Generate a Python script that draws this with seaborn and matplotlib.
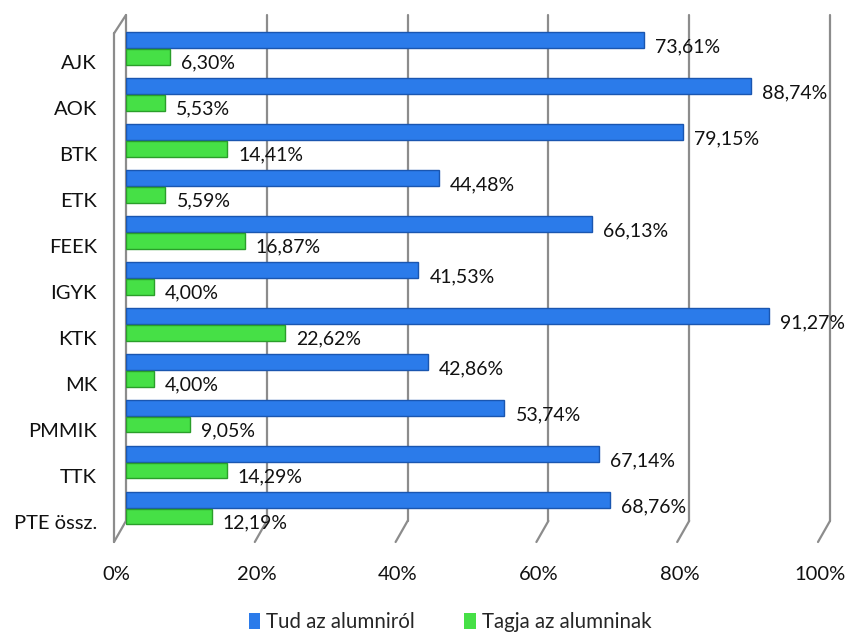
import numpy as np
import pandas as pd
import matplotlib
matplotlib.use("Agg")
import matplotlib.pyplot as plt
import matplotlib.transforms as mtransforms
from matplotlib.patches import Patch
import seaborn as sns

categories = ["AJK", "AOK", "BTK", "ETK", "FEEK", "IGYK", "KTK", "MK", "PMMIK", "TTK", "PTE össz."]
tud_values = [73.61, 88.74, 79.15, 44.48, 66.13, 41.53, 91.27, 42.86, 53.74, 67.14, 68.76]
tagja_values = [6.30, 5.53, 14.41, 5.59, 16.87, 4.00, 22.62, 4.00, 9.05, 14.29, 12.19]
series_names = ["Tud az alumniról", "Tagja az alumninak"]
x_ticks = [0, 20, 40, 60, 80, 100]
x_tick_labels = ["0%", "20%", "40%", "60%", "80%", "100%"]

colors = ["#2B7BEA", "#46E046"]
edge_colors = ["#1A56B0", "#2A9E2A"]

df = pd.DataFrame({
    "cat": categories * 2,
    "value": tud_values + tagja_values,
    "series": [series_names[0]] * len(categories) + [series_names[1]] * len(categories),
})

sns.set_theme(style="white")
plt.rcParams["font.family"] = ["Lato", "DejaVu Sans"]
FS = 14

fig = plt.figure(figsize=(8.53, 6.37), dpi=100)
ax = fig.add_axes([126 / 853, 1 - 542 / 637, 704 / 853, 527 / 637])

sns.barplot(data=df, y="cat", x="value", hue="series", order=categories,
            hue_order=series_names, palette=colors, saturation=1, orient="h",
            width=0.72, gap=0.06, ax=ax, legend=False, zorder=3)

for container, ec in zip(ax.containers, edge_colors):
    for bar in container:
        bar.set_edgecolor(ec)
        bar.set_linewidth(1.0)

ax.set_xlim(0, 100)
ax.set_ylim(10.73, -0.728)
ax.set_xlabel("")
ax.set_ylabel("")
for s in ax.spines.values():
    s.set_visible(False)

# gridlines (pseudo-3D wall lines)
trans = ax.get_xaxis_transform()
slant = 12 / 704 * 100
for xv in x_ticks:
    ax.plot([xv, xv], [1.0, 0.04], color="#8C8C8C", lw=1.6, transform=trans, zorder=1, clip_on=False)
    ax.plot([xv, xv - slant], [0.04, 0.0], color="#8C8C8C", lw=1.6, transform=trans, zorder=1, clip_on=False)
ax.plot([0, -slant], [1.0, 0.965], color="#8C8C8C", lw=1.6, transform=trans, zorder=1, clip_on=False)
ax.plot([-slant, -slant], [0.965, 0.0], color="#8C8C8C", lw=1.6, transform=trans, zorder=1, clip_on=False)

ax.set_xticks(x_ticks)
ax.set_xticklabels(x_tick_labels, fontsize=FS + 0.5, color="#111111")
ax.tick_params(axis="x", length=0, pad=17)
ax.tick_params(axis="y", length=0, pad=21, labelsize=FS + 0.5, labelcolor="#111111")
for lab in ax.get_xticklabels():
    lab.set_transform(lab.get_transform() + mtransforms.ScaledTranslation(-7 / 72, 0, fig.dpi_scale_trans))
for lab in ax.get_yticklabels():
    lab.set_transform(lab.get_transform() + mtransforms.ScaledTranslation(0, -9.5 / 72, fig.dpi_scale_trans))

# value labels
for container in ax.containers:
    for bar in container:
        w = bar.get_width()
        yc = bar.get_y() + bar.get_height() / 2
        ax.annotate(f"{w:.2f}".replace(".", ",") + "%", xy=(w, yc),
                    xytext=(8, -4.5), textcoords="offset points",
                    ha="left", va="center", fontsize=FS, color="#111111",
                    zorder=4, annotation_clip=False)

handles = [Patch(facecolor=c, edgecolor="none") for c in colors]
fig.legend(handles, series_names, loc="center", bbox_to_anchor=(450 / 853, 1 - 622 / 637),
           ncol=2, frameon=False, fontsize=FS + 0.8, handlelength=0.55, handleheight=0.8,
           handletextpad=0.3, columnspacing=2.4)

fig.savefig("out.png", dpi=100)
